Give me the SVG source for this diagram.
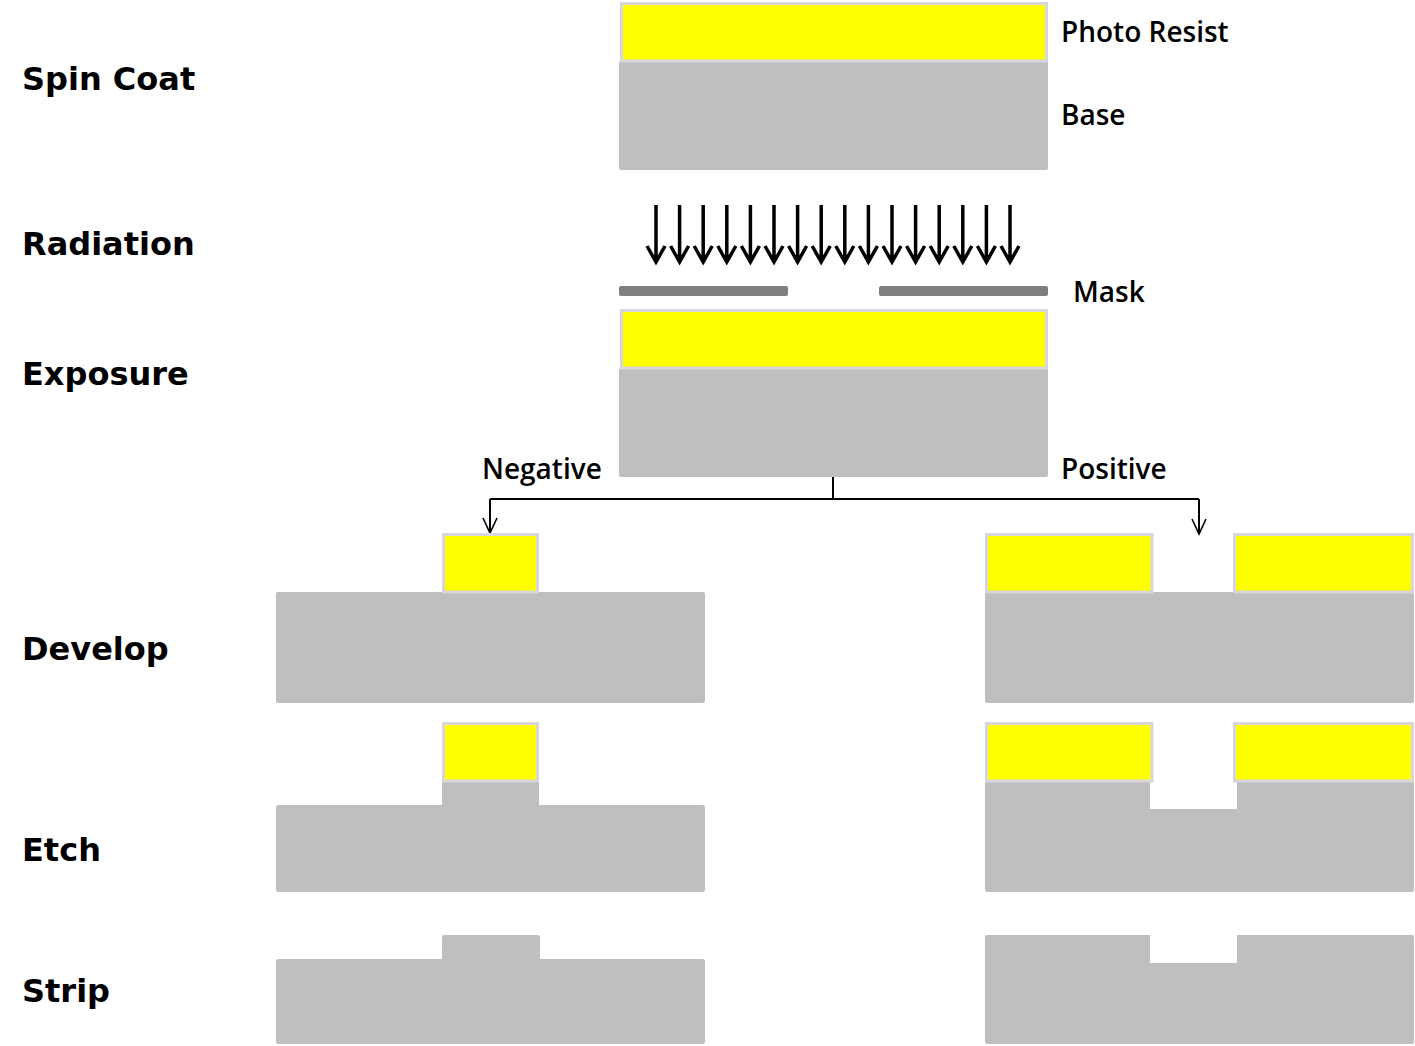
<svg xmlns="http://www.w3.org/2000/svg" xmlns:xlink="http://www.w3.org/1999/xlink" width="1415" height="1046" viewBox="0 0 1415 1046">
<style>
.step{font-family:"DejaVu Sans",sans-serif;font-weight:bold;font-size:32px;fill:#000}
.lbl{font-family:"Open Sans","Liberation Sans",Arial,sans-serif;font-weight:600;font-size:28px;fill:#000}
.resist{fill:#ffff00;stroke:#d6d6dc;stroke-width:3}
.base{fill:#bfbfbf}
.mask{fill:#7f7f7f}
.conn{fill:none;stroke:#000;stroke-width:2}
.head{fill:none;stroke:#000;stroke-width:1.6}
.ray{fill:none;stroke:#000;stroke-width:3.5}
</style>
<defs>
<g id="ray">
<path class="ray" d="M0,205 V261 M-9,246 L0,262 L9,246"/>
</g>
</defs>
<rect width="1415" height="1046" fill="#fff"/>

<g id="labels">
<text class="step" x="22" y="90">Spin Coat</text>
<text class="step" x="22" y="255">Radiation</text>
<text class="step" x="22" y="385">Exposure</text>
<text class="step" x="22" y="660">Develop</text>
<text class="step" x="22" y="861">Etch</text>
<text class="step" x="22" y="1002">Strip</text>
</g>

<g id="spin-coat">
<rect class="base" x="619" y="61" width="429" height="109" rx="2"/>
<rect class="resist" x="621.5" y="3.5" width="425" height="57.5"/>
<text class="lbl" x="1061" y="42">Photo Resist</text>
<text class="lbl" x="1061" y="125">Base</text>
</g>

<g id="radiation">
<use xlink:href="#ray" x="656"/>
<use xlink:href="#ray" x="679.6"/>
<use xlink:href="#ray" x="703.2"/>
<use xlink:href="#ray" x="726.8"/>
<use xlink:href="#ray" x="750.4"/>
<use xlink:href="#ray" x="774"/>
<use xlink:href="#ray" x="797.6"/>
<use xlink:href="#ray" x="821.2"/>
<use xlink:href="#ray" x="844.8"/>
<use xlink:href="#ray" x="868.4"/>
<use xlink:href="#ray" x="892"/>
<use xlink:href="#ray" x="915.6"/>
<use xlink:href="#ray" x="939.2"/>
<use xlink:href="#ray" x="962.8"/>
<use xlink:href="#ray" x="986.4"/>
<use xlink:href="#ray" x="1010"/>
</g>

<g id="mask">
<rect class="mask" x="619" y="286" width="169" height="10" rx="2"/>
<rect class="mask" x="879" y="286" width="169" height="10" rx="2"/>
<text class="lbl" x="1073" y="302">Mask</text>
</g>

<g id="exposure">
<rect class="base" x="619" y="368" width="429" height="109" rx="2"/>
<rect class="resist" x="621.5" y="310.5" width="425" height="57.5"/>
</g>

<g id="connectors">
<path class="conn" d="M833,477 V499"/>
<path class="conn" d="M490,499 H1199"/>
<path class="conn" d="M490,499 V532"/>
<path class="head" d="M483,518 L490,533 L497,518"/>
<path class="conn" d="M1199,499 V533"/>
<path class="head" d="M1192,519 L1199,534 L1206,519"/>
<text class="lbl" x="482" y="479">Negative</text>
<text class="lbl" x="1061" y="479">Positive</text>
</g>

<g id="negative-develop">
<rect class="base" x="276" y="592" width="429" height="111" rx="2"/>
<rect class="resist" x="443.5" y="534.5" width="94" height="57.5"/>
</g>

<g id="positive-develop">
<rect class="base" x="985" y="592" width="429" height="111" rx="2"/>
<rect class="resist" x="986.5" y="534.5" width="165.5" height="57.5"/>
<rect class="resist" x="1234.5" y="534.5" width="178" height="57.5"/>
</g>

<g id="negative-etch">
<path class="base" d="M278,805 H442 V781 H539 V805 H703 Q705,805 705,807 V890 Q705,892 703,892 H278 Q276,892 276,890 V807 Q276,805 278,805 Z"/>
<rect class="resist" x="443.5" y="723.5" width="94" height="57.5"/>
</g>

<g id="positive-etch">
<path class="base" d="M985,781 H1150 V809 H1237 V781 H1414 V890 Q1414,892 1412,892 H987 Q985,892 985,890 Z"/>
<rect class="resist" x="986.5" y="723.5" width="165.5" height="57.5"/>
<rect class="resist" x="1234.5" y="723.5" width="178" height="57.5"/>
</g>

<g id="negative-strip">
<path class="base" d="M278,959 H442 V937 Q442,935 444,935 H538 Q540,935 540,937 V959 H703 Q705,959 705,961 V1042 Q705,1044 703,1044 H278 Q276,1044 276,1042 V961 Q276,959 278,959 Z"/>
</g>

<g id="positive-strip">
<path class="base" d="M987,935 H1150 V963 H1237 V935 H1412 Q1414,935 1414,937 V1042 Q1414,1044 1412,1044 H987 Q985,1044 985,1042 V937 Q985,935 987,935 Z"/>
</g>
</svg>
